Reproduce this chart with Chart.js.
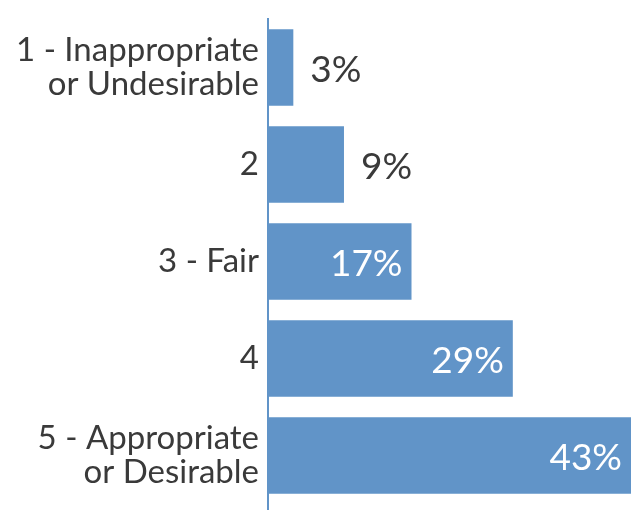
<!DOCTYPE html>
<html>
<head>
<meta charset="utf-8">
<script src="https://cdn.jsdelivr.net/npm/chart.js@4"></script>
<style>
  html, body { margin: 0; padding: 0; background: #fff; }
  #wrap { width: 633px; height: 510px; position: relative; }
</style>
</head>
<body>
<div id="wrap"><canvas id="chart"></canvas></div>
<script>
const categories = [
  ['1 - Inappropriate', 'or Undesirable'],
  '2',
  '3 - Fair',
  '4',
  ['5 - Appropriate', 'or Desirable']
];
const percentages = [3, 9, 17, 29, 43];

const barColor = '#6194c8';
const textColor = '#3a3a3a';
const fontFamily = 'Lato, "Open Sans", sans-serif';

// value labels: outside for short bars, inside (white) for long ones
const valueLabels = {
  id: 'valueLabels',
  afterDatasetsDraw(chart) {
    const ctx = chart.ctx;
    const meta = chart.getDatasetMeta(0);
    ctx.save();
    ctx.font = '37px ' + fontFamily;
    ctx.textBaseline = 'middle';
    meta.data.forEach((bar, i) => {
      const v = percentages[i];
      const txt = v + '%';
      if (v < 10) {
        ctx.fillStyle = textColor;
        ctx.textAlign = 'left';
        ctx.fillText(txt, bar.x + 17, bar.y + 3);
      } else {
        ctx.fillStyle = '#ffffff';
        ctx.textAlign = 'right';
        ctx.fillText(txt, bar.x - 9, bar.y + 3);
      }
    });
    ctx.restore();
  }
};

// the vertical axis line runs down to the bottom of the canvas
const axisLine = {
  id: 'axisLine',
  afterDatasetsDraw(chart) {
    const ctx = chart.ctx;
    const x = chart.chartArea.left;
    ctx.save();
    ctx.strokeStyle = barColor;
    ctx.lineWidth = 2;
    ctx.beginPath();
    ctx.moveTo(x, chart.chartArea.top - 1);
    ctx.lineTo(x, chart.height);
    ctx.stroke();
    ctx.restore();
  }
};

new Chart(document.getElementById('chart'), {
  type: 'bar',
  data: {
    labels: categories,
    datasets: [{
      data: percentages,
      backgroundColor: barColor,
      borderWidth: 0,
      categoryPercentage: 0.79,
      barPercentage: 1.0
    }]
  },
  options: {
    indexAxis: 'y',
    responsive: true,
    maintainAspectRatio: false,
    animation: false,
    layout: { padding: { top: 19, bottom: 6, right: 2, left: 0 } },
    plugins: {
      legend: { display: false },
      tooltip: { enabled: false }
    },
    scales: {
      x: {
        min: 0,
        max: Math.max(...percentages),
        display: false
      },
      y: {
        grid: { display: false, drawTicks: false },
        border: { display: false },
        afterFit(scale) {
          scale.width = 268;
          scale.paddingTop = 0;
          scale.paddingBottom = 0;
        },
        ticks: {
          color: textColor,
          padding: 9,
          font: { family: fontFamily, size: 33, lineHeight: 1.05 }
        }
      }
    }
  },
  plugins: [valueLabels, axisLine]
});
</script>
</body>
</html>
